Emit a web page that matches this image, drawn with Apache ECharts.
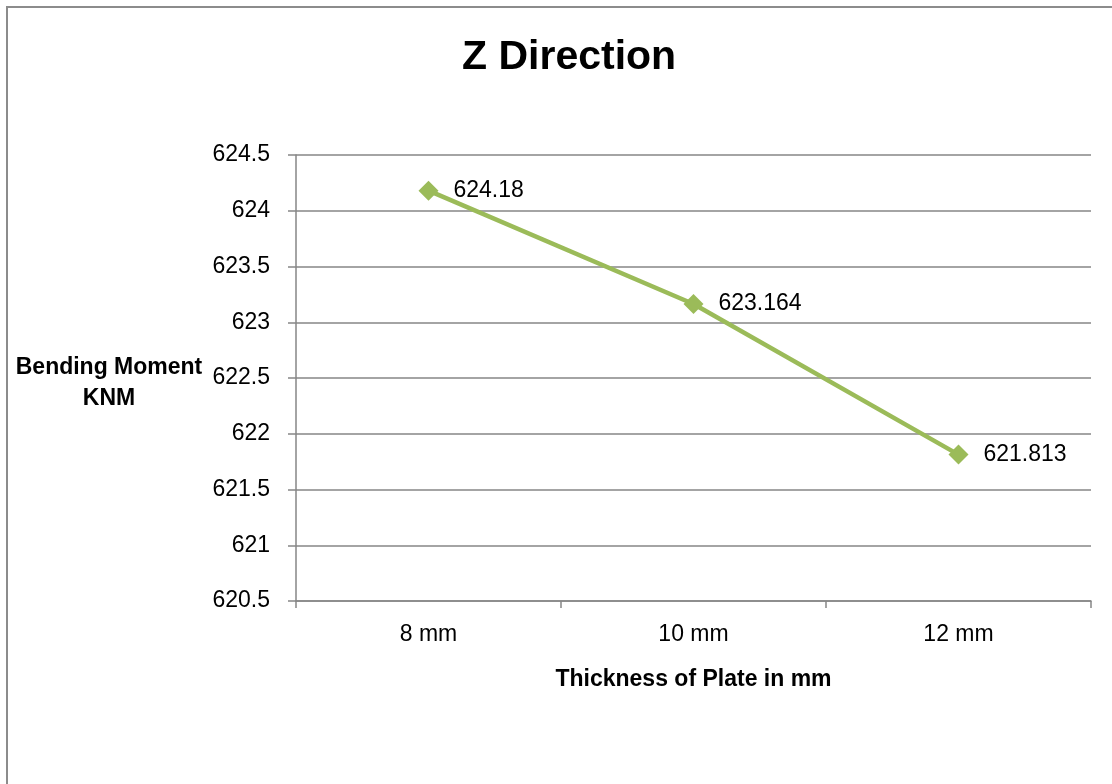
<!DOCTYPE html>
<html><head><meta charset="utf-8">
<script src="https://cdn.jsdelivr.net/npm/echarts@6/dist/echarts.min.js"></script>
<style>html,body{margin:0;padding:0;background:#fff}#c{width:1112px;height:784px}</style>
</head><body><div id="c"></div>
<script>
const categories = ['8 mm', '10 mm', '12 mm'];
const values = [624.18, 623.164, 621.813];
const yTicks = { min: 620.5, max: 624.5, interval: 0.5 };
const titleText = 'Z Direction';
const xName = 'Thickness of Plate in mm';
const yName = 'Bending Moment\nKNM';

const FONT = '"Liberation Sans", Arial, sans-serif';
const chart = echarts.init(document.getElementById('c'), null, { renderer: 'canvas' });
chart.setOption({
  backgroundColor: '#fff',
  animation: false,
  title: {
    text: titleText, left: 457, top: 32,
    textStyle: { fontFamily: FONT, fontSize: 41, fontWeight: 'bold', color: '#000' }
  },
  graphic: [{
    type: 'rect', shape: { x: 7, y: 7, width: 1120, height: 800 },
    style: { fill: 'none', stroke: '#8c8c8c', lineWidth: 2 }, silent: true
  }, {
    type: 'text',
    style: { x: 109, y: 352, text: yName, font: 'bold 23px ' + FONT, fill: '#000',
      textAlign: 'center', textVerticalAlign: 'top', lineHeight: 31 },
    silent: true
  }],
  grid: { left: 296, right: 21, top: 155, bottom: 183 },
  xAxis: {
    type: 'category', data: categories, boundaryGap: true,
    name: xName, nameLocation: 'middle', nameGap: 67,
    nameTextStyle: { fontFamily: FONT, fontSize: 23, fontWeight: 'bold', color: '#000' },
    axisLine: { lineStyle: { color: '#868686', width: 1.5 } },
    axisTick: { show: true, length: 7, alignWithLabel: false, lineStyle: { color: '#868686', width: 1.5 } },
    axisLabel: { fontFamily: FONT, fontSize: 23, color: '#000', margin: 22 },
    splitLine: { show: false }
  },
  yAxis: {
    type: 'value', min: yTicks.min, max: yTicks.max, interval: yTicks.interval,
    axisLine: { show: true, lineStyle: { color: '#868686', width: 1.5 } },
    axisTick: { show: true, length: 8, lineStyle: { color: '#868686', width: 1.5 } },
    axisLabel: { fontFamily: FONT, fontSize: 23, color: '#000', margin: 26,
      formatter: v => String(parseFloat(v.toFixed(1))) },
    splitLine: { lineStyle: { color: '#868686', width: 1.5 } }
  },
  series: [{
    type: 'line', data: values,
    lineStyle: { color: '#9BBB59', width: 4.5 },
    itemStyle: { color: '#9BBB59' },
    symbol: 'diamond', symbolSize: 20, showAllSymbol: true,
    label: { show: true, position: 'right', distance: 15, fontFamily: FONT, fontSize: 23, color: '#000',
      formatter: p => String(p.value) }
  }]
});
</script></body></html>
